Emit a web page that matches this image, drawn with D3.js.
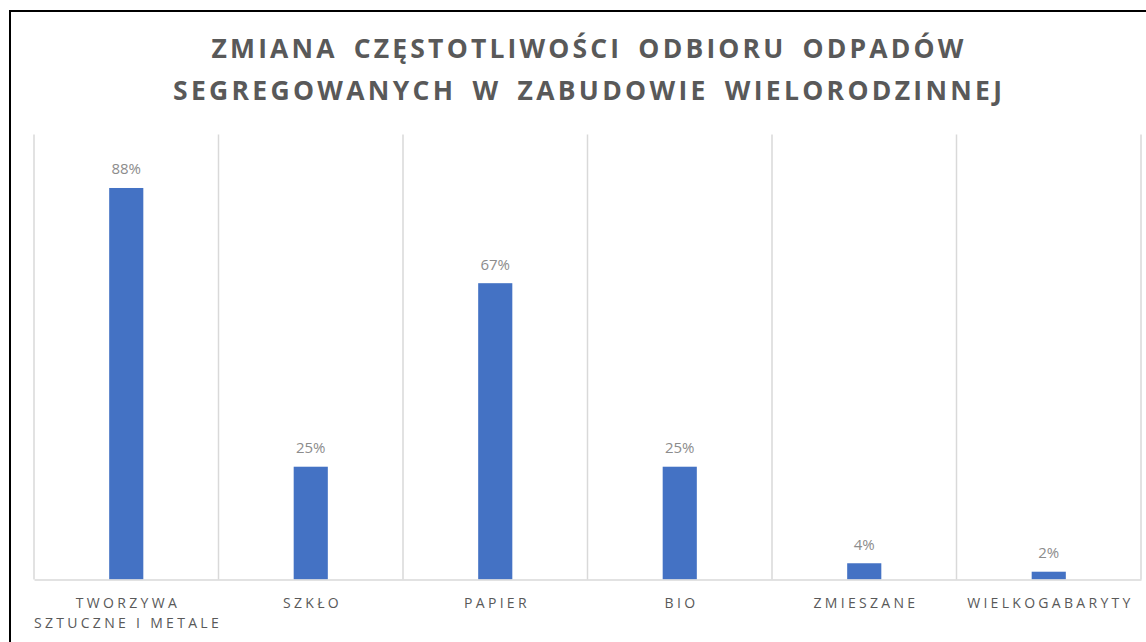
<!DOCTYPE html>
<html><head><meta charset="utf-8">
<script src="https://cdn.jsdelivr.net/npm/d3@7"></script>
<style>
html,body{margin:0;padding:0;background:#fff;}
svg{display:block;}
</style></head>
<body>
<svg id="chart" width="1146" height="642"></svg>
<script>
const titleLines = ["ZMIANA CZĘSTOTLIWOŚCI ODBIORU ODPADÓW", "SEGREGOWANYCH W ZABUDOWIE WIELORODZINNEJ"];
const categories = ["TWORZYWA SZTUCZNE I METALE", "SZKŁO", "PAPIER", "BIO", "ZMIESZANE", "WIELKOGABARYTY"];
const tickLabels = [["TWORZYWA", "SZTUCZNE I METALE"], ["SZKŁO"], ["PAPIER"], ["BIO"], ["ZMIESZANE"], ["WIELKOGABARYTY"]];
const values = [0.88, 0.2535, 0.666, 0.2535, 0.0365, 0.0175];

(function() {
const svg = d3.select("#chart");
const mLeft = 34, mRight = 1141, mTop = 134.6, mBottom = 579.5;

// outer frame
svg.append("rect").attr("x", 10).attr("y", 11).attr("width", 1400).attr("height", 900)
  .attr("fill", "none").attr("stroke", "#000").attr("stroke-width", 2);

const band = d3.scaleBand().domain(categories).range([mLeft, mRight]).padding(0);
const x = d3.scaleBand().domain(categories).range([mLeft, mRight]).paddingInner(0.815).paddingOuter(0.4075);
const y = d3.scaleLinear().domain([0, 1]).range([mBottom, mTop]);

// vertical gridlines at category boundaries
const bounds = categories.map(c => band(c)).concat([mRight]);
svg.append("g").selectAll("line").data(bounds).join("line")
  .attr("x1", d => d).attr("x2", d => d)
  .attr("y1", y(1)).attr("y2", y(0))
  .attr("stroke", "#d9d9d9").attr("stroke-width", 1.5);

// bars
svg.append("g").selectAll("rect").data(values).join("rect")
  .attr("x", (d, i) => x(categories[i]))
  .attr("width", x.bandwidth())
  .attr("y", d => y(d))
  .attr("height", d => y(0) - y(d))
  .attr("fill", "#4472c4");

// axis
const axis = svg.append("g").attr("transform", `translate(0,${mBottom})`)
  .call(d3.axisBottom(band).tickSize(0).tickPadding(0));
axis.select(".domain").attr("stroke", "#d9d9d9").attr("stroke-width", 1.5);
axis.selectAll(".tick text").each(function(d, i) {
  const t = d3.select(this);
  t.text(null).attr("y", 0).attr("dy", null)
    .attr("font-family", "'Open Sans', sans-serif").attr("font-size", 14)
    .attr("fill", "#595959").style("letter-spacing", "3.3px");
  tickLabels[i].forEach((line, k) => {
    t.append("tspan").attr("x", 1.7).attr("y", 28 + k * 20.3).text(line);
  });
});

// data labels
const fmt = d3.format(".0%");
svg.append("g").selectAll("text").data(values).join("text")
  .attr("x", (d, i) => x(categories[i]) + x.bandwidth() / 2)
  .attr("y", d => y(d) - 13.5)
  .attr("text-anchor", "middle")
  .attr("font-family", "'Open Sans', sans-serif").attr("font-size", 15)
  .attr("fill", "#8c8c8c")
  .text(d => fmt(d));

// title
const titleTargets = [752, 829];
const tg = svg.append("g");
titleLines.forEach((line, k) => {
  const ws = 6;
  const t = tg.append("text")
    .attr("x", (mLeft + mRight) / 2)
    .attr("y", 57.5 + k * 42.5)
    .attr("text-anchor", "middle")
    .attr("font-family", "'Open Sans', sans-serif").attr("font-weight", "bold")
    .attr("font-size", 26.5).attr("fill", "#595959")
    .style("word-spacing", ws + "px")
    .text(line);
  const natural = t.node().getComputedTextLength();
  const ls = (titleTargets[k] - natural) / (line.length - 1);
  t.style("letter-spacing", ls + "px").attr("x", (mLeft + mRight) / 2 + ls / 2);
});
})();
</script>
</body></html>
